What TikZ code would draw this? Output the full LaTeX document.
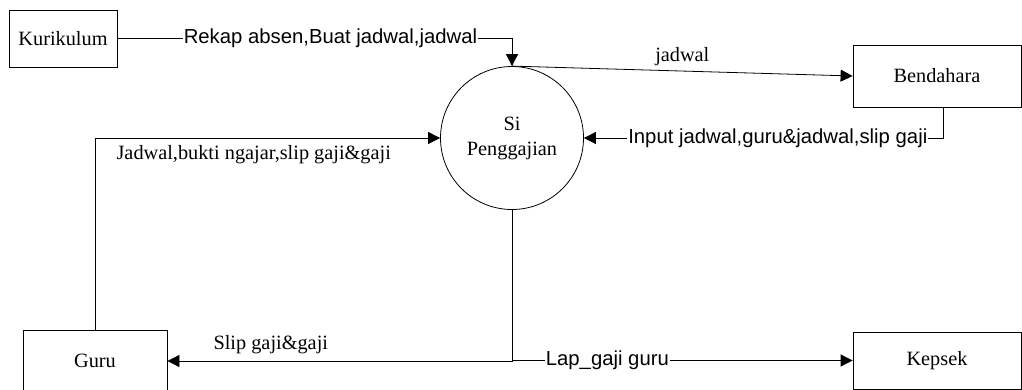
\documentclass[tikz,border=0pt]{standalone}
\usepackage{fontspec}
\setmainfont{Liberation Serif}
\newfontfamily\arialfont{Liberation Sans}
\usetikzlibrary{arrows.meta}
\tikzset{
  entitas/.style={draw, line width=0.8pt, inner sep=0pt, font=\fontsize{20.3}{24}\selectfont},
  proses/.style={draw, circle, line width=0.8pt, minimum size=143pt, inner sep=0pt, align=center, font=\fontsize{20.3}{25}\selectfont},
  alur/.style={line width=0.8pt, -{Triangle[length=12pt,width=12pt]}},
  labelsans/.style={fill=white, inner sep=1pt, font=\arialfont\fontsize{20.3}{24}\selectfont},
  labelserif/.style={inner sep=1pt, font=\fontsize{20.3}{24}\selectfont}
}
\begin{document}
\begin{tikzpicture}[x=1pt, y=-1pt]
\useasboundingbox (0,0) rectangle (1022,390);
\node[entitas, minimum width=108pt, minimum height=57pt] (kurikulum) at (63,38.5){Kurikulum};
\node[entitas, minimum width=168pt, minimum height=62pt] (bendahara) at (937,76){Bendahara};
\node[entitas, minimum width=144pt, minimum height=62pt] (guru) at (95,361){Guru};
\node[entitas, minimum width=168pt, minimum height=57pt] (kepsek) at (937,360.5){Kepsek};
\node[proses] (gaji) at (512,138){Si\\Penggajian};
\coordinate (bdh) at (943,107);
\draw[alur](kurikulum.east) -| node[labelsans, pos=0.27]{Rekap absen,Buat jadwal,jadwal} (gaji.north);
\draw[alur](gaji.north) -- node[labelserif, above=4pt]{jadwal} (bendahara.west);
\draw[alur](bdh) |- node[labelsans, pos=0.73]{Input jadwal,guru\&jadwal,slip gaji} (gaji.east);
\draw[alur](guru.north) |- node[labelserif, pos=0.73, below=6pt]{Jadwal,bukti ngajar,slip gaji\&gaji} (gaji.west);
\draw[alur](gaji.south) |- node[labelserif, pos=0.85, above=6pt]{Slip gaji\&gaji} (guru.east);
\draw[alur](gaji.south) |- node[labelsans, pos=0.64]{Lap\_gaji guru} (kepsek.west);
\end{tikzpicture}
\end{document}
